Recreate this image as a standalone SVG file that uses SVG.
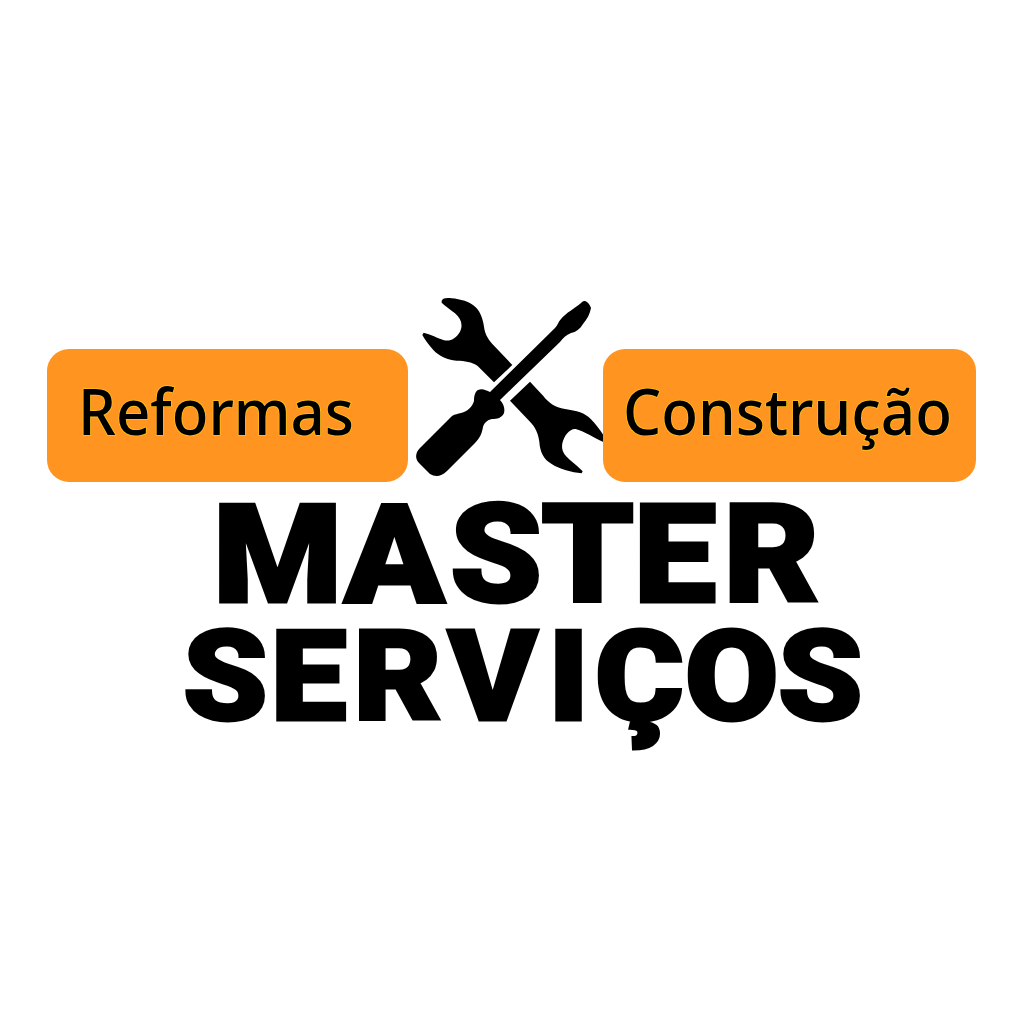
<svg xmlns="http://www.w3.org/2000/svg" width="1024" height="1024" viewBox="0 0 1024 1024">
<style>
.box{fill:#FF9520}
.tag{font-family:"Noto Sans","Open Sans",sans-serif;font-weight:500;font-size:64px;fill:#000;stroke:#FFC21A;stroke-width:1.6px;paint-order:stroke}
.title{font-family:Roboto,"Liberation Sans",sans-serif;font-weight:900;fill:#000;stroke:#000;stroke-width:3px;stroke-linejoin:miter}
.tool{fill:#000}
</style>
<rect width="1024" height="1024" fill="#fff"/>
<g id="tools">
<path class="tool" transform="translate(415 290) scale(.33333)" d="M80 32C84 24 95 23 110 25C135 27 165 35 182 52C198 68 204 90 207 110C210 135 222 152 240 170L292 225L237 277L188 228C170 215 150 213 125 212C95 210 72 198 55 180C42 165 30 150 22 135L26 128C45 132 70 145 85 150C105 157 125 143 135 125C145 105 138 85 120 70C105 58 90 48 80 38Z"/>
<path class="tool" transform="translate(505 380) scale(.33333)" d="M75 5L115 48C130 68 150 82 180 87C215 92 240 98 258 118C272 132 285 150 295 165L295 186C270 175 235 152 212 147C195 145 178 165 172 190C168 212 178 225 195 240C210 252 222 262 233 274L230 280C200 277 165 268 140 252C115 237 105 215 103 185C100 160 90 140 75 125L15 62Z"/>
<path class="tool" d="M585 301C588 302 590 305 591 308C590 314 587 319 583 324C580 329 576 332 571 333C566 335 563 338 560 342L500 400C504 404 505 409 504 413C502 418 497 419 492 419C487 420 484 423 483 427C482 433 480 438 475 443L447 471C441 477 435 477 430 474L419 463C415 459 415 453 420 448L452 416C455 414 458 414 461 413C468 411 472 407 474 401C474 396 475 392 478 390C482 388 486 390 490 392L555 328C558 325 558 322 561 319C566 313 575 308 581 303C583 301 584 301 585 301Z"/>
</g>
<g id="reformas">
<rect class="box" x="47" y="349" width="361" height="133" rx="22"/>
<text class="tag" x="78" y="435" textLength="276" lengthAdjust="spacingAndGlyphs">Reformas</text>
</g>
<g id="construcao">
<rect class="box" x="603" y="349" width="373" height="133" rx="22"/>
<text class="tag" x="623" y="435" textLength="329" lengthAdjust="spacingAndGlyphs">Construção</text>
</g>
<g id="title" transform="scale(1.08 1)">
<text class="title" y="602" font-size="137" x="196.9 318.5 416.4 501 586.5 669.8">MASTER</text>
<text class="title" y="720.5" font-size="126" x="169.3 250.4 327.2 414.7 507.4 550.6 634 720.1">SERVIÇOS</text>
</g>
</svg>
